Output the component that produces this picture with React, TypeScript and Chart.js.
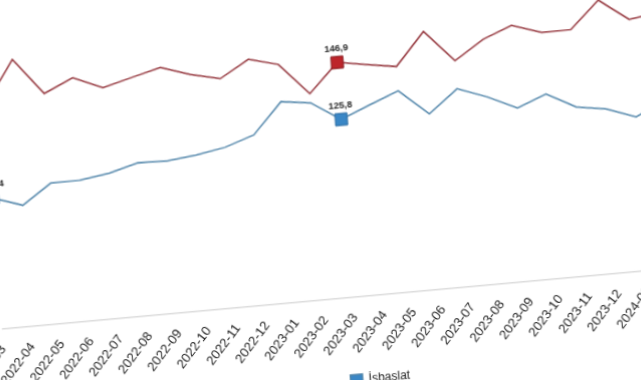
import React, { useEffect, useRef } from 'react';
import { Chart, registerables } from 'chart.js';

Chart.register(...registerables);

// ---- data ----
const months: string[] = [
  '2022-03', '2022-04', '2022-05', '2022-06', '2022-07', '2022-08',
  '2022-09', '2022-10', '2022-11', '2022-12', '2023-01', '2023-02',
  '2023-03', '2023-04', '2023-05', '2023-06', '2023-07', '2023-08',
  '2023-09', '2023-10', '2023-11', '2023-12', '2024-01', '2024-02',
  '2024-03', '2024-04',
];

const blueName = 'İşbaşlat';
const blueValues: number[] = [
  108.4, 104.8, 112.0, 112.1, 113.7, 116.6, 116.3, 117.5, 119.4, 123.0, 134.3, 132.9,
  125.8, 130.2, 134.4, 124.9, 133.2, 129.2, 124.1, 128.3, 122.5, 120.8, 116.9, 122.0,
];

const redName = '';
const redValues: number[] = [
  143.1, 158.8, 145.2, 150.1, 145.4, 148.2, 150.9, 147.3, 144.8, 151.0, 148.1, 136.3,
  146.9, 145.1, 143.4, 155.4, 143.6, 150.5, 154.7, 151.1, 151.2, 161.1, 153.0, 154.5,
];

// points that carry a square marker and a value label
const markedIndices: number[] = [0, 12];

// ---- layout / view settings ----
const PAD_LEFT = 31;
const PAD_RIGHT = 0;
const CANVAS_W = 802;
const CANVAS_H = 440;
const Y_MIN = 60;
const PX_PER_UNIT = 2.7;
// oblique view of the page (skew) and where the axis of the anchor month lands
const SKEW_B = -0.0905;
const SKEW_C = 0.072;
const VIEW_ANCHOR_INDEX = 12;
const VIEW_ANCHOR_X = 354;
const VIEW_ANCHOR_Y = 297;

const FONT = '"Liberation Sans", Arial, Helvetica, sans-serif';

const fmt = (v: number) => v.toFixed(1).replace('.', ',');

const valueLabelPlugin = {
  id: 'valueLabels',
  afterDatasetsDraw(chart: any) {
    const ctx = chart.ctx;
    ctx.save();
    ctx.font = `bold 9.5px ${FONT}`;
    ctx.fillStyle = '#262626';
    ctx.textAlign = 'center';
    ctx.textBaseline = 'bottom';
    chart.data.datasets.forEach((ds: any, di: number) => {
      const meta = chart.getDatasetMeta(di);
      markedIndices.forEach((i) => {
        const el = meta.data[i];
        if (!el) return;
        ctx.fillText(fmt(ds.data[i]), el.x, el.y - 9);
      });
    });
    ctx.restore();
  },
};

export default function App() {
  const canvasRef = useRef<HTMLCanvasElement>(null);
  const wrapRef = useRef<HTMLDivElement>(null);

  useEffect(() => {
    const canvas = canvasRef.current!;
    const wrap = wrapRef.current!;
    canvas.width = CANVAS_W;
    canvas.height = CANVAS_H;
    canvas.style.width = CANVAS_W + 'px';
    canvas.style.height = CANVAS_H + 'px';

    const markRadius = (ctx: any) => (markedIndices.includes(ctx.dataIndex) ? 8.5 : 0);

    const chart = new Chart(canvas, {
      type: 'line',
      data: {
        labels: months,
        datasets: [
          {
            label: redName,
            data: redValues,
            borderColor: '#93333a',
            borderWidth: 1.5,
            pointStyle: 'rect',
            pointRadius: markRadius,
            pointBackgroundColor: '#bd252b',
            pointBorderColor: '#85191e',
            pointBorderWidth: 1,
            tension: 0,
            fill: false,
          },
          {
            label: blueName,
            data: blueValues,
            borderColor: '#4f84a9',
            backgroundColor: '#3a87c6',
            borderWidth: 1.5,
            pointStyle: 'rect',
            pointRadius: markRadius,
            pointBackgroundColor: '#3a87c6',
            pointBorderColor: '#2a6aa0',
            pointBorderWidth: 1,
            tension: 0,
            fill: false,
          },
        ],
      },
      options: {
        responsive: false,
        maintainAspectRatio: false,
        animation: false,
        devicePixelRatio: 1,
        events: [],
        layout: { padding: { left: PAD_LEFT, right: PAD_RIGHT, top: 10, bottom: 0 } },
        scales: {
          x: {
            grid: { display: false, drawTicks: false },
            border: { display: true, color: '#dcdcdc', width: 1.5 },
            ticks: {
              autoSkip: false,
              minRotation: 49,
              maxRotation: 49,
              padding: 13,
              color: '#222',
              font: { family: FONT, size: 13 },
            },
          },
          y: {
            display: false,
            min: Y_MIN,
            max: 175,
          },
        },
        plugins: {
          legend: {
            display: true,
            position: 'bottom',
            labels: {
              filter: (item: any) => item.text !== '',
              boxWidth: 12,
              boxHeight: 12,
              color: '#222',
              font: { family: FONT, size: 12 },
              padding: 5,
            },
          },
          tooltip: { enabled: false },
        },
      },
      plugins: [valueLabelPlugin],
    });

    // fix vertical scale to the measured pixels-per-unit
    const area = chart.chartArea;
    (chart.options.scales as any).y.max = Y_MIN + (area.bottom - area.top) / PX_PER_UNIT;
    chart.update();

    const ax = chart.scales.x.getPixelForValue(VIEW_ANCHOR_INDEX);
    const ay = chart.chartArea.bottom;
    const e = VIEW_ANCHOR_X - ax - SKEW_C * ay;
    const f = VIEW_ANCHOR_Y - SKEW_B * ax - ay;
    wrap.style.transform = `matrix(1, ${SKEW_B}, ${SKEW_C}, 1, ${e}, ${f})`;

    return () => chart.destroy();
  }, []);

  return (
    <div
      style={{
        position: 'fixed',
        left: 0,
        top: 0,
        width: 641,
        height: 380,
        overflow: 'hidden',
        background: '#fff',
      }}
    >
      <div ref={wrapRef} style={{ position: 'absolute', left: 0, top: 0, transformOrigin: '0 0' }}>
        <canvas ref={canvasRef} style={{ display: 'block' }} />
      </div>
    </div>
  );
}
